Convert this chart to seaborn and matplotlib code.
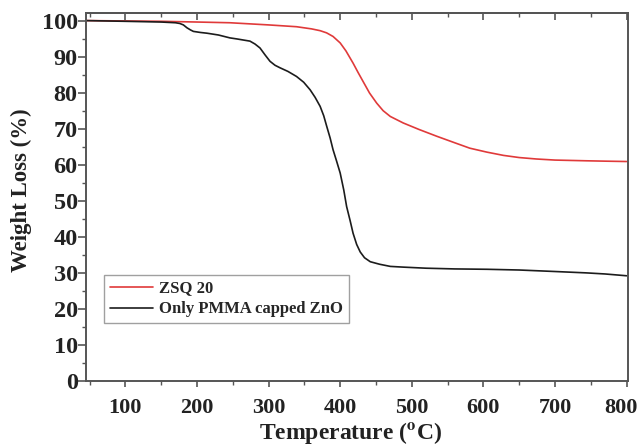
import pandas as pd
import seaborn as sns
import matplotlib.pyplot as plt
from matplotlib.ticker import MultipleLocator
from matplotlib.transforms import ScaledTranslation

# TGA curves
temp_zsq = [45, 100, 150, 200, 246, 300, 339, 360, 372, 381, 390, 400, 408, 418, 425,
            432, 441, 451, 460, 470, 488, 510, 535, 560, 581, 605, 628, 650, 674, 700,
            744, 770, 800]
wt_zsq = [100, 99.9, 99.8, 99.6, 99.4, 98.8, 98.3, 97.7, 97.2, 96.6, 95.6, 93.8, 91.6,
          88.2, 85.6, 83.1, 79.9, 77.1, 75.0, 73.4, 71.6, 69.8, 67.9, 66.1, 64.6, 63.5,
          62.6, 62.0, 61.6, 61.3, 61.1, 61.0, 60.9]

temp_pmma = [45, 100, 150, 170, 176, 181, 186, 191, 195, 205, 214, 230, 246, 256, 265,
             274, 281, 288, 295, 302, 309, 316, 327, 339, 349, 358, 365, 372, 377, 381,
             386, 390, 395, 400, 405, 409, 414, 418, 423, 428, 434, 442, 455, 470, 488,
             520, 560, 605, 650, 698, 744, 770, 800]
wt_pmma = [100, 99.8, 99.6, 99.4, 99.2, 98.8, 98.0, 97.4, 97.0, 96.7, 96.5, 96.0, 95.2,
           94.9, 94.6, 94.3, 93.5, 92.4, 90.5, 88.7, 87.6, 86.9, 85.9, 84.5, 82.9, 80.8,
           78.7, 76.2, 73.6, 70.8, 67.4, 64.2, 61.0, 57.7, 53.0, 48.4, 44.4, 41.0, 37.9,
           35.8, 34.2, 33.1, 32.4, 31.8, 31.6, 31.3, 31.1, 31.0, 30.8, 30.4, 30.0, 29.7,
           29.2]

labels = ['ZSQ 20', 'Only PMMA capped ZnO']

df = pd.concat([
    pd.DataFrame({'T': temp_zsq, 'W': wt_zsq, 'sample': labels[0]}),
    pd.DataFrame({'T': temp_pmma, 'W': wt_pmma, 'sample': labels[1]}),
])

sns.set_style('ticks')
plt.rcParams['font.family'] = ['Liberation Serif', 'DejaVu Serif']
plt.rcParams['font.weight'] = 'bold'
plt.rcParams['mathtext.fontset'] = 'stix'

fig, ax = plt.subplots(figsize=(6.39, 4.46), dpi=100)
fig.subplots_adjust(left=0.1346, right=0.9828, bottom=0.1457, top=0.970)

sns.lineplot(data=df, x='T', y='W', hue='sample', palette=['#e03a3a', '#1c1c1c'],
             linewidth=1.2, ax=ax, sort=False, estimator=None)

ax.set_xlim(45, 802)
ax.set_ylim(0, 102)
ax.xaxis.set_major_locator(MultipleLocator(100))
ax.xaxis.set_minor_locator(MultipleLocator(50))
ax.yaxis.set_major_locator(MultipleLocator(10))
ax.yaxis.set_minor_locator(MultipleLocator(5))
ax.set_xticks(range(100, 801, 100))

for s in ax.spines.values():
    s.set_color('#555555')
    s.set_linewidth(1.4)

ax.tick_params(axis='both', which='major', width=1.2, color='#555555',
               labelcolor='#222222')
ax.tick_params(axis='both', which='minor', length=3, width=1.0, color='#555555')
ax.tick_params(axis='x', which='major', length=4, labelsize=16, pad=8)
ax.tick_params(axis='y', which='major', length=6, labelsize=17.5, pad=0)

top = ax.secondary_xaxis('top')
top.xaxis.set_major_locator(MultipleLocator(100))
top.xaxis.set_minor_locator(MultipleLocator(50))
top.tick_params(which='both', direction='in', labeltop=False, color='#555555')
top.tick_params(which='major', length=5, width=1.2)
top.tick_params(which='minor', length=3, width=1.0)
top.spines['top'].set_color('#555555')
top.spines['top'].set_linewidth(1.4)

ax.set_xlabel(r'Temperature ($^{\mathbf{o}}$C)', fontsize=17, fontweight='bold',
              color='#222222')
ax.set_ylabel('Weight Loss (%)', fontsize=16.5, fontweight='bold', color='#222222')
ax.xaxis.set_label_coords(0.489, -0.105)
ax.yaxis.set_label_coords(-0.10, 0.52)

leg = ax.legend(loc='lower left', bbox_to_anchor=(0.033, 0.157), fontsize=12,
                frameon=True, fancybox=False, handlelength=2.6, handletextpad=0.35,
                borderpad=0.35, labelspacing=0.3, borderaxespad=0)
leg.get_frame().set_edgecolor('#888888')
leg.get_frame().set_linewidth(1.0)
leg.set_title(None)
for line in leg.get_lines():
    line.set_linewidth(1.2)

# nudge the last x tick label so it stays inside the canvas
last = ax.get_xticklabels()[-1]
last.set_transform(last.get_transform() + ScaledTranslation(-6 / 100, 0, fig.dpi_scale_trans))

fig.savefig('out.png', dpi=100)
